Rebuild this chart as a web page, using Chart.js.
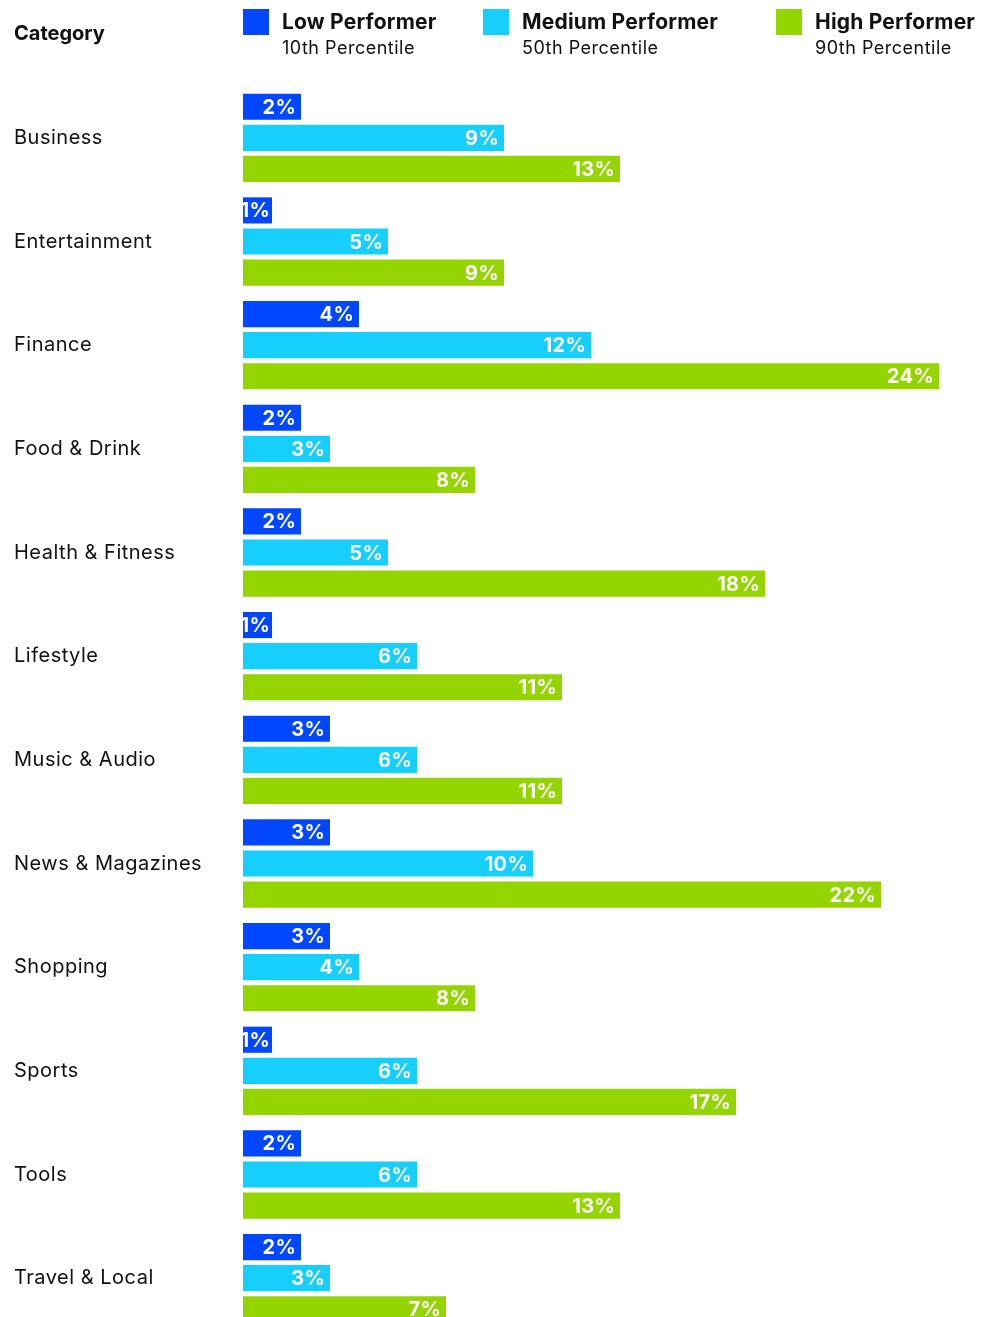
<!DOCTYPE html>
<html>
<head>
<meta charset="utf-8">
<script src="https://cdn.jsdelivr.net/npm/chart.js@4"></script>
<style>
  html, body { margin: 0; padding: 0; background: #fff; overflow: hidden; }
  body { width: 982px; height: 1317px; position: relative; font-family: Inter, "Noto Sans", sans-serif; color: #111; }
  #head { position: absolute; left: 0; top: 0; width: 982px; height: 80px; z-index: 2; }
  #head .cat { position: absolute; left: 14px; top: 21px; font-weight: 700; font-size: 20px; }
  #head .item { position: absolute; top: 9px; }
  #head .sw { position: absolute; left: 0; top: 0; width: 26px; height: 26px; }
  #head .ttl { position: absolute; left: 39px; top: 0px; white-space: nowrap; font-weight: 700; font-size: 21px; letter-spacing: 0.2px; }
  #head .sub { position: absolute; left: 39px; top: 28px; white-space: nowrap; font-size: 18px; letter-spacing: 0.5px; }
  #bars { position: absolute; left: 0; top: 0; }
</style>
</head>
<body>
<div id="head"><div class="cat">Category</div></div>
<canvas id="bars" width="982" height="1342"></canvas>
<script>
const categories = ['Business', 'Entertainment', 'Finance', 'Food & Drink', 'Health & Fitness', 'Lifestyle',
  'Music & Audio', 'News & Magazines', 'Shopping', 'Sports', 'Tools', 'Travel & Local'];

const lowPerformer = [2, 1, 4, 2, 2, 1, 3, 3, 3, 1, 2, 2];
const mediumPerformer = [9, 5, 12, 3, 5, 6, 6, 10, 4, 6, 6, 3];
const highPerformer = [13, 9, 24, 8, 18, 11, 11, 22, 8, 17, 13, 7];

const seriesNames = ['Low Performer', 'Medium Performer', 'High Performer'];
const seriesSubtitles = ['10th Percentile', '50th Percentile', '90th Percentile'];
const seriesColors = ['#0047ff', '#16cffd', '#94d500'];
const legendLeft = [243, 483, 776];

// header legend
const head = document.getElementById('head');
seriesNames.forEach(function(name, i) {
  const item = document.createElement('div');
  item.className = 'item';
  item.style.left = legendLeft[i] + 'px';
  item.innerHTML = '<span class="sw" style="background:' + seriesColors[i] + '"></span>' +
    '<span class="ttl">' + name + '</span><span class="sub">' + seriesSubtitles[i] + '</span>';
  head.appendChild(item);
});

// a touch of tracking on the category names
const tracking = {
  id: 'tracking',
  beforeDraw(chart) { chart.ctx.letterSpacing = '0.5px'; },
  afterDraw(chart) { chart.ctx.letterSpacing = '0px'; }
};

// white value labels at the end of each bar
const valueLabels = {
  id: 'valueLabels',
  afterDatasetsDraw(chart) {
    const ctx = chart.ctx;
    ctx.save();
    ctx.fillStyle = '#fff';
    ctx.font = '700 20px Inter, "Noto Sans", sans-serif';
    ctx.letterSpacing = '0.3px';
    ctx.textAlign = 'right';
    ctx.textBaseline = 'middle';
    chart.data.datasets.forEach(function(ds, i) {
      chart.getDatasetMeta(i).data.forEach(function(bar, j) {
        const pad = (bar.x - bar.base) < 35 ? 2 : 5;
        ctx.fillText(ds.data[j] + '%', bar.x - pad, bar.y + 1);
      });
    });
    ctx.restore();
  }
};

const ctx = document.getElementById('bars').getContext('2d');
new Chart(ctx, {
  type: 'bar',
  data: {
    labels: categories,
    datasets: [lowPerformer, mediumPerformer, highPerformer].map(function(values, i) {
      return {
        label: seriesNames[i],
        data: values,
        backgroundColor: seriesColors[i],
        categoryPercentage: 0.9,
        barPercentage: 0.84
      };
    })
  },
  options: {
    indexAxis: 'y',
    responsive: false,
    animation: false,
    layout: { padding: { left: 14, right: 14, top: 86, bottom: 0 } },
    plugins: {
      legend: { display: false },
      tooltip: { enabled: false }
    },
    scales: {
      x: {
        display: false,
        min: 0,
        max: 25
      },
      y: {
        grid: { display: false, drawTicks: false },
        border: { display: false },
        afterFit: function(scale) { scale.width = 229; },
        ticks: {
          crossAlign: 'far',
          color: '#111',
          padding: 0,
          font: { family: 'Inter, "Noto Sans", sans-serif', size: 20 }
        }
      }
    }
  },
  plugins: [tracking, valueLabels]
});
</script>
</body>
</html>
